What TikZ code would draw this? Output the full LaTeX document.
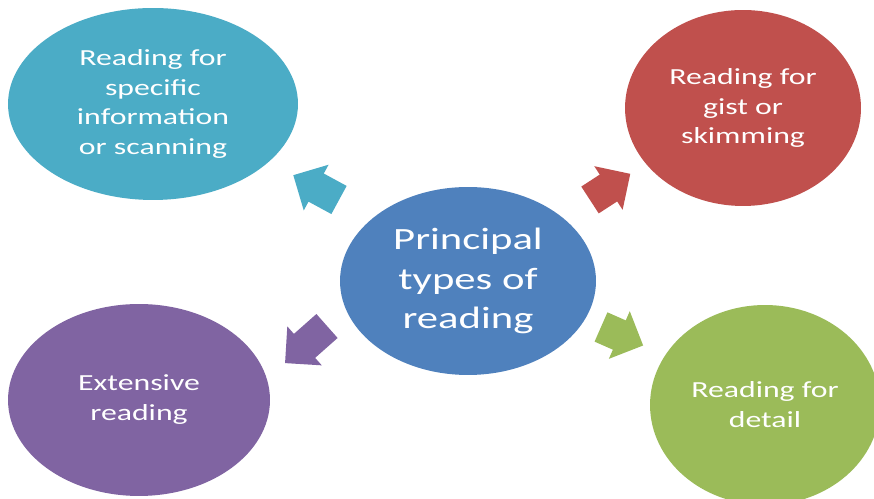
\documentclass[tikz,border=0pt]{standalone}
\usepackage{fontspec}
\setmainfont{Carlito}[FakeStretch=1.38]
\usetikzlibrary{shapes.geometric}
\definecolor{ccyan}{HTML}{4BACC6}
\definecolor{cred}{HTML}{C0504D}
\definecolor{cpurple}{HTML}{8064A2}
\definecolor{cgreen}{HTML}{9BBB59}
\definecolor{cblue}{HTML}{4F81BD}
\tikzset{
  bubble/.style={ellipse, inner sep=0pt, text=white, align=center,
    font=\fontsize{13.1}{17}\selectfont},
  hub/.style={bubble, font=\fontsize{17.6}{22.7}\selectfont},
  blockarrow/.pic={
    \path[pic actions] (0,-16) -- (#1-26,-16) -- (#1-26,-26) -- (#1,0)
      -- (#1-26,26) -- (#1-26,16) -- (0,16) -- cycle;
  }
}
\begin{document}
\begin{tikzpicture}[x=0.02cm, y=0.02cm]
\fill[white] (0,0) rectangle (874,499);
\clip (0,0) rectangle (874,499);
\node[bubble, fill=ccyan, minimum width=5.8cm, minimum height=3.84cm] (scan) at (153,395)
  {Reading for\\specific\\information\\or scanning};
\node[bubble, fill=cred, minimum width=4.72cm, minimum height=3.92cm] (gist) at (743,391)
  {Reading for\\gist or\\skimming};
\node[bubble, fill=cpurple, minimum width=5.24cm, minimum height=3.84cm] (ext) at (139,99)
  {Extensive\\reading};
\node[bubble, fill=cgreen, minimum width=4.6cm, minimum height=4cm] (detail) at (765,94)
  {Reading for\\detail};
\node[hub, fill=cblue, minimum width=5.12cm, minimum height=3.76cm] (hub) at (468,218)
  {Principal\\types of\\reading};
\pic[fill=ccyan, rotate=151.5] at (339,299) {blockarrow=52};
\pic[fill=cred, rotate=33] at (590,299) {blockarrow=48};
\pic[fill=cpurple, rotate=221.5] at (327,173) {blockarrow=56};
\pic[fill=cgreen, rotate=-23.7] at (601,172) {blockarrow=46};
\end{tikzpicture}
\end{document}
